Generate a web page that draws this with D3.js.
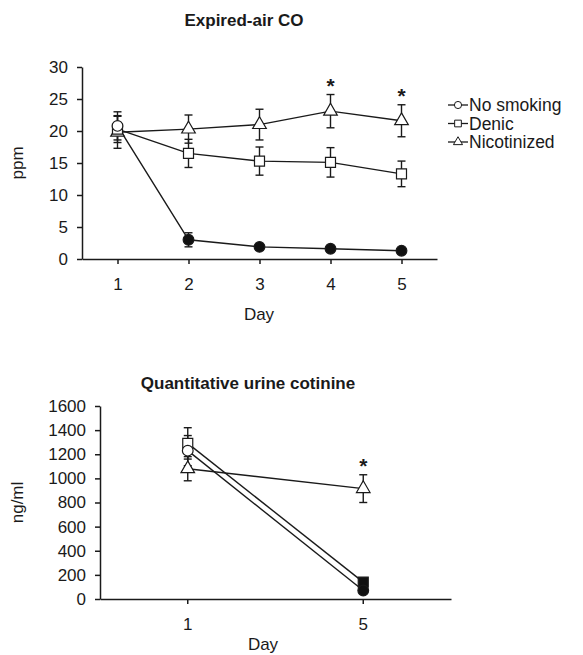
<!DOCTYPE html>
<html lang="en">
<head>
  <meta charset="UTF-8">
  <title>Expired-air CO and urine cotinine</title>
  <style>
    body { margin: 0; background: #fff; }
    svg { display: block; font-family: "Liberation Sans", Arial, sans-serif; }
    .axis path, .axis line { stroke: #1a1a1a; stroke-width: 1.5; }
    .axis text { font-size: 17px; fill: #1a1a1a; }
  </style>
</head>
<body>
  <svg width="583" height="655"></svg>

  <script src="https://d3js.org/d3.v7.min.js"></script>
  <script>
    // top chart: expired-air CO (ppm) by day
    const days = [1, 2, 3, 4, 5];
    const coNoSmoking = [20.8, 3.0, 1.9, 1.6, 1.3];
    const coNoSmokingErr = [2.2, 1.1, 0.5, 0.4, 0.4];
    const coDenic = [20.3, 16.5, 15.3, 15.1, 13.3];
    const coDenicErr = [2.1, 2.2, 2.2, 2.3, 2.0];
    const coNicotinized = [19.8, 20.3, 21.0, 23.1, 21.6];
    const coNicotinizedErr = [2.5, 2.2, 2.4, 2.6, 2.5];
    const coTicks = [0, 5, 10, 15, 20, 25, 30];
    const coSig = [4, 5];

    // bottom chart: urine cotinine (ng/ml), days 1 and 5
    const cotDays = ['1', '5'];
    const cotNoSmoking = [1230, 70];
    const cotNoSmokingErr = [125, 20];
    const cotDenic = [1290, 140];
    const cotDenicErr = [130, 30];
    const cotNicotinized = [1080, 915];
    const cotNicotinizedErr = [100, 115];
    const cotTicks = [0, 200, 400, 600, 800, 1000, 1200, 1400, 1600];
    const cotSig = ['5'];

    const groups = ['No smoking', 'Denic', 'Nicotinized'];
    const shapes = { 'No smoking': d3.symbolCircle, 'Denic': d3.symbolSquare, 'Nicotinized': d3.symbolTriangle };
    const sizes = { 'No smoking': 90, 'Denic': 100, 'Nicotinized': 80 };

    const svg = d3.select('svg');

    function drawPanel(opts) {
      const g = svg.append('g');
      const x = opts.x, y = opts.y;

      g.append('g').attr('class', 'axis')
        .attr('transform', `translate(0,${y.range()[0]})`)
        .call(opts.xAxis)
        .call(s => s.selectAll('text').attr('dy', '1.35em'));

      g.append('g').attr('class', 'axis')
        .attr('transform', `translate(${x.range()[0]},0)`)
        .call(d3.axisLeft(y).tickValues(opts.yTicks).tickFormat(d3.format('d'))
          .tickSize(5).tickPadding(9).tickSizeOuter(0));

      g.append('text')
        .attr('x', opts.titleX).attr('y', opts.titleY)
        .attr('text-anchor', 'middle')
        .attr('font-size', 17).attr('font-weight', 'bold').attr('fill', '#1a1a1a')
        .text(opts.title);

      g.append('text')
        .attr('x', opts.labelX).attr('y', y.range()[0] + opts.labelDy)
        .attr('text-anchor', 'middle')
        .attr('font-size', 17).attr('fill', '#1a1a1a')
        .text('Day');

      g.append('text')
        .attr('transform', `translate(23,${(y.range()[0] + y.range()[1]) / 2}) rotate(-90)`)
        .attr('text-anchor', 'middle')
        .attr('font-size', 17).attr('fill', '#1a1a1a')
        .text(opts.yLabel);

      const series = opts.series;

      // error bars
      series.forEach(s => {
        s.values.forEach((v, i) => {
          const cx = opts.px(opts.days[i]);
          const e = s.err[i];
          const eg = g.append('g').attr('stroke', '#1a1a1a').attr('stroke-width', 1.4);
          eg.append('line').attr('x1', cx).attr('x2', cx).attr('y1', y(v - e)).attr('y2', y(v + e));
          eg.append('line').attr('x1', cx - 4).attr('x2', cx + 4).attr('y1', y(v + e)).attr('y2', y(v + e));
          eg.append('line').attr('x1', cx - 4).attr('x2', cx + 4).attr('y1', y(v - e)).attr('y2', y(v - e));
        });
      });

      // lines
      const line = d3.line().x(d => opts.px(d.day)).y(d => y(d.v));
      series.forEach(s => {
        g.append('path')
          .datum(s.values.map((v, i) => ({ day: opts.days[i], v })))
          .attr('fill', 'none').attr('stroke', '#1a1a1a').attr('stroke-width', 1.4)
          .attr('d', line);
      });

      // markers, nicotinized first so circles/squares sit on top like the original
      series.slice().reverse().forEach(s => {
        s.values.forEach((v, i) => {
          const filled = opts.filled(s.name, i);
          g.append('path')
            .attr('transform', `translate(${opts.px(opts.days[i])},${y(v)})`)
            .attr('d', d3.symbol(shapes[s.name], sizes[s.name])())
            .attr('fill', filled ? '#111' : '#fff')
            .attr('stroke', '#1a1a1a').attr('stroke-width', 1.2);
        });
      });

      // significance stars over nicotinized
      const nic = series.find(s => s.name === 'Nicotinized');
      opts.sig.forEach(d => {
        const i = opts.days.indexOf(d);
        g.append('text')
          .attr('x', opts.px(d)).attr('y', y(nic.values[i] + nic.err[i]) - 2)
          .attr('text-anchor', 'middle')
          .attr('font-size', 21).attr('font-weight', 'bold').attr('fill', '#1a1a1a')
          .text('*');
      });
    }

    // top panel
    const xTop = d3.scaleLinear().domain([0.5, 5.5]).range([82, 437]);
    const yTop = d3.scaleLinear().domain([0, 30]).range([259, 67]);
    drawPanel({
      x: xTop, y: yTop, days: days, px: d => xTop(d),
      xAxis: d3.axisBottom(xTop).tickValues(days).tickFormat(d3.format('d')).tickSize(5).tickSizeOuter(0),
      yTicks: coTicks,
      title: 'Expired-air CO', titleX: 244, titleY: 26,
      labelX: 259, labelDy: 61, yLabel: 'ppm',
      series: [
        { name: 'No smoking', values: coNoSmoking, err: coNoSmokingErr },
        { name: 'Denic', values: coDenic, err: coDenicErr },
        { name: 'Nicotinized', values: coNicotinized, err: coNicotinizedErr }
      ],
      filled: (name, i) => name === 'No smoking' && i > 0,
      sig: coSig
    });

    // bottom panel
    const xBot = d3.scaleBand().domain(cotDays).range([100, 451]);
    const yBot = d3.scaleLinear().domain([0, 1600]).range([599, 406]);
    drawPanel({
      x: xBot, y: yBot, days: cotDays, px: d => xBot(d) + xBot.bandwidth() / 2,
      xAxis: d3.axisBottom(xBot).tickSize(5).tickSizeOuter(0),
      yTicks: cotTicks,
      title: 'Quantitative urine cotinine', titleX: 248, titleY: 389,
      labelX: 263, labelDy: 51, yLabel: 'ng/ml',
      series: [
        { name: 'No smoking', values: cotNoSmoking, err: cotNoSmokingErr },
        { name: 'Denic', values: cotDenic, err: cotDenicErr },
        { name: 'Nicotinized', values: cotNicotinized, err: cotNicotinizedErr }
      ],
      filled: (name, i) => name !== 'Nicotinized' && i > 0,
      sig: cotSig
    });

    // legend
    const legend = svg.append('g').attr('transform', 'translate(448,105)');
    groups.forEach((name, i) => {
      const row = legend.append('g').attr('transform', `translate(0,${i * 18.5})`);
      row.append('line').attr('x1', 0).attr('x2', 20).attr('stroke', '#1a1a1a').attr('stroke-width', 1.3);
      row.append('path')
        .attr('transform', 'translate(10,0)')
        .attr('d', d3.symbol(shapes[name], sizes[name] * 0.45)())
        .attr('fill', '#fff').attr('stroke', '#1a1a1a').attr('stroke-width', 1);
      row.append('text')
        .attr('x', 21).attr('dy', '0.35em')
        .attr('font-size', 17.5).attr('fill', '#1a1a1a')
        .text(name);
    });
  </script>
</body>
</html>
